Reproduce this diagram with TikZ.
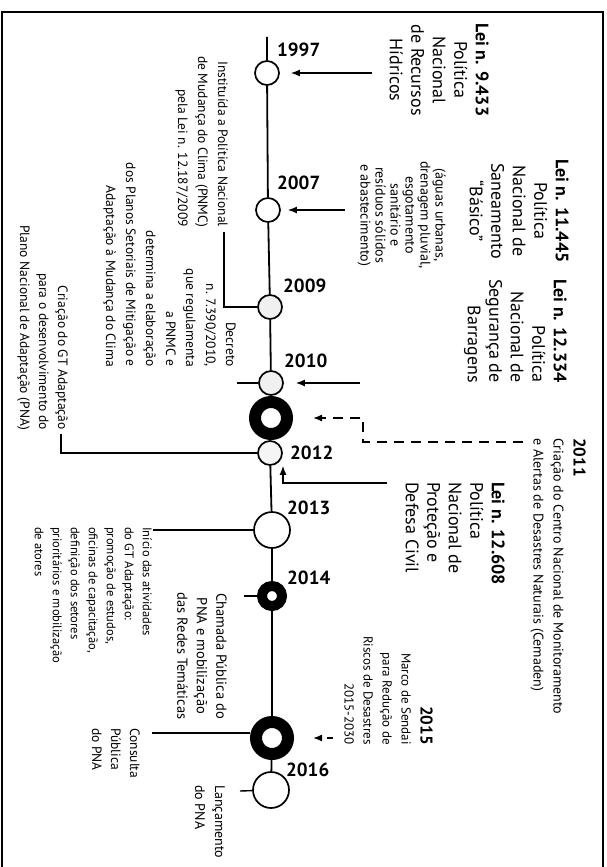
\documentclass[tikz,border=0pt]{standalone}
\usepackage{fontspec}
\setmainfont{PT Sans}
\usetikzlibrary{arrows.meta}
\newcommand\fsz[2]{\fontsize{#1}{#2}\selectfont}
\begin{document}
\begin{tikzpicture}[x=1pt,y=-1pt,
  evt/.style={circle,draw,line width=1.7pt,fill=white,inner sep=0pt,minimum size=24pt},
  bigevt/.style={evt,minimum size=36pt},
  ring/.style={circle,draw,fill=white,inner sep=0pt,line width=12pt,minimum size=32pt},
  smallring/.style={circle,draw,fill=white,inner sep=0pt,line width=10pt,minimum size=20pt},
  grayevt/.style={evt,fill=gray!12},
  tl/.style={line width=1.8pt},
  link/.style={line width=1.4pt},
  arr/.style={line width=1.4pt,-{Latex[length=9pt,width=7pt]}},
  darr/.style={arr,dash pattern=on 10pt off 7pt},
  year/.style={font=\bfseries\fsz{19}{22},anchor=west,inner sep=0pt},
  rot/.style={rotate=-90,inner sep=0pt},
  big/.style={rot,font=\fsz{18}{21.5}},
  small/.style={rot,font=\fsz{13.5}{20}}
]
\useasboundingbox (0,0) rectangle (606,867);
% frame
\draw[line width=1.5pt] (2,870) -- (2,12) -- (603,12) -- (603,870);

% events
\node[evt] (c1997) at (267,73) {};
\node[evt] (c2007) at (268,210) {};
\node[grayevt] (c2009) at (270,307) {};
\node[grayevt] (c2010) at (271,383) {};
\node[ring] (c2011) at (271,418) {};
\node[evt,fill=gray!8] (c2012) at (270,453) {};
\node[bigevt] (c2013) at (272,530) {};
\node[smallring] (c2014) at (272,596) {};
\node[ring] (c2015) at (272,738) {};
\node[bigevt] (c2016) at (271,790) {};
\coordinate (top) at (267,37);
\draw[tl] (top) -- (c1997) -- (c2007) -- (c2009) -- (c2010) -- (c2011) -- (c2012)
  -- (c2013) -- (c2014) -- (c2015) -- (c2016);

% years
\node[year] (y1997) at (277,50) {1997};
\node[year] (y2007) at (277,183) {2007};
\node[year] (y2009) at (283,286) {2009};
\node[year] (y2010) at (284,361) {2010};
\node[year] (y2012) at (290,453) {2012};
\node[year] (y2013) at (287,508) {2013};
\node[year] (y2014) at (287,578) {2014};
\node[year] (y2016) at (286,770) {2016};

% right side texts
\node[big,anchor=north,align=center] (tA) at (489,70)
  {\textbf{Lei n. 9.433}\\Política\\Nacional\\de Recursos\\Hídricos};
\node[big,anchor=north,align=center] (tB) at (569,211)
  {\textbf{Lei n. 11.445}\\Política\\Nacional de\\Saneamento\\“Básico”};
\node[rot,anchor=north,align=center,font=\fsz{14}{15}] (tB2) at (446,215)
  {(águas urbanas,\\drenagem pluvial,\\esgotamento\\sanitário e\\resíduos sólidos\\e abastecimento)};
\node[big,anchor=north east,align=right] (tC) at (567,383)
  {\textbf{Lei n. 12.334}\\Política\\Nacional de\\Segurança de\\Barragens};
\node[rot,anchor=north west,align=left,font=\fsz{14}{20}] (tG) at (586,438)
  {{\bfseries\fsz{17}{20}2011}\\Criação do Centro Nacional de Monitoramento\\e Alertas de Desastres Naturais (Cemaden)};
\node[big,anchor=north west,align=left] (tH) at (505,482)
  {\textbf{Lei n. 12.608}\\Política\\Nacional de\\Proteção e\\Defesa Civil};
\node[rot,anchor=north east,align=right,font=\fsz{13}{19}] (tK) at (433,745)
  {{\bfseries\fsz{17}{20}2015}\\Marco de Sendai\\para Redução de\\Riscos de Desastres\\2015-2030};

% left side texts
\node[small,anchor=north east,align=right] (tD) at (228,227)
  {Instituída a Política Nacional\\de Mudança do Clima (PNMC)\\pela Lei n. 12.187/2009};
\node[small,anchor=north east,align=right] (tE) at (236,367)
  {Decreto\\n. 7.390/2010,\\que regulamenta\\a PNMC e\\determina a elaboração\\dos Planos Setoriais de Mitigação e\\Adaptação à Mudança do Clima};
\node[rot,anchor=north east,align=right,font=\fsz{13.5}{19}] (tF) at (68,430)
  {Criação do GT Adaptação\\para o desenvolvimento do\\Plano Nacional de Adaptação (PNA)};
\node[rot,anchor=north west,align=left,font=\fsz{12.5}{18}] (tI) at (152,527)
  {Início das atividades\\do GT Adaptação:\\promoção de estudos,\\oficinas de capacitação,\\definição dos setores\\prioritários e mobilização\\de atores};
\node[rot,anchor=north,align=center,font=\fsz{14.5}{19.5}] (tJ) at (227,656)
  {Chamada Pública do\\PNA e mobilização\\das Redes Temáticas};
\node[rot,anchor=north west,align=left,font=\fsz{13.5}{19}] (tL) at (140,728)
  {Consulta\\Pública\\do PNA};
\node[rot,anchor=north west,align=left,font=\fsz{14}{20}] (tM) at (225,785)
  {Lançamento\\do PNA};

% connectors right
\coordinate (a1) at (372,73);
\draw[arr,shorten >=11pt] (a1) -- (a1 -| c1997.east);
\coordinate (b1) at (345,210);
\draw[arr,shorten >=7pt] (b1) -- (b1 -| c2007.east);
\coordinate (cc1) at (360,383);
\draw[arr,shorten >=12pt] (cc1) -- (cc1 -| c2010.east);
\coordinate (g1) at (523,442);
\coordinate (g2) at (363,442);
\draw[darr,shorten >=20pt] (g1) -- (g2) |- (c2011);
\coordinate (h1) at (387,483);
\coordinate (h2) at (283,483);
\draw[arr] (h1) -- (h2) -- (h2 |- c2012.south);
\coordinate (k1) at (333,738);
\draw[arr,dash pattern=on 6pt off 5pt,shorten >=19pt] (k1) -- (c2015);

% connectors left
\coordinate (d1) at (224,232);
\draw[link] (d1) |- (c2009);
\coordinate (e1) at (237,383);
\draw[link] (e1) -- (c2010);
\coordinate (f1) at (61,434);
\draw[link] (f1) |- (c2012);
\coordinate (i1) at (153,530);
\draw[link] (i1) -- (c2013);
\coordinate (j1) at (244,596);
\draw[link] (j1) -- (c2014);
\coordinate (l1) at (152,733);
\draw[link] (l1) -- (l1 -| c2015.west);
\coordinate (m1) at (240,791);
\draw[link] (m1) -- (c2016);
\end{tikzpicture}
\end{document}
